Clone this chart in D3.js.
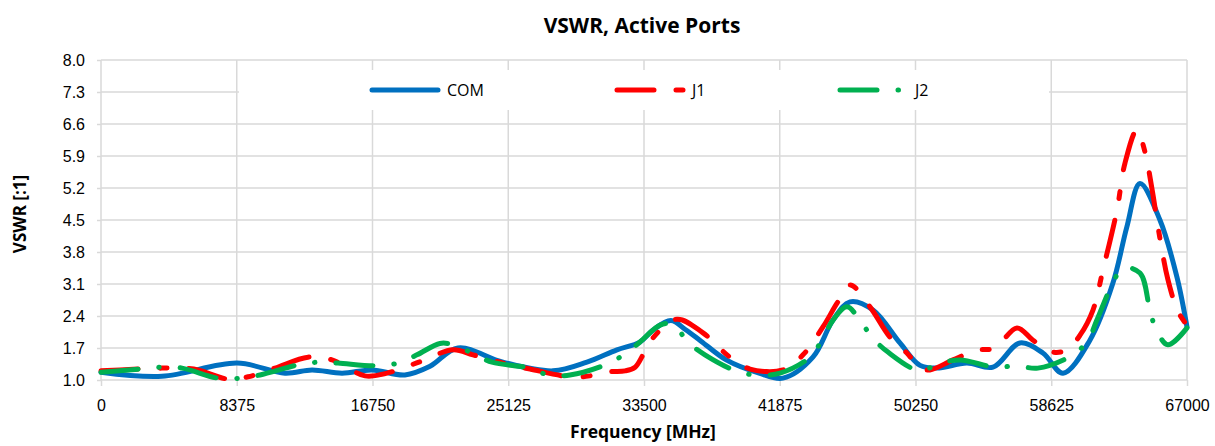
<!DOCTYPE html>
<html>
<head>
<meta charset="utf-8">
<script src="https://cdn.jsdelivr.net/npm/d3@7"></script>
<style>
  body { margin: 0; background: #fff; }
  svg { font-family: "Open Sans", sans-serif; }
</style>
</head>
<body>
<svg id="chart" width="1215" height="446"></svg>
<script>
'use strict';

// axis ticks
const xTicks = [0, 8375, 16750, 25125, 33500, 41875, 50250, 58625, 67000];
const yTicks = [1.0, 1.7, 2.4, 3.1, 3.8, 4.5, 5.2, 5.9, 6.6, 7.3, 8.0];

// COM series
const comFreq = [0, 3760, 8390, 11350, 13020, 14870, 16720, 18750, 20300, 22020, 24800, 27880, 29980, 31830,
  33250, 34050, 35160, 36070, 37020, 38570, 40600, 42070, 43920, 45160, 46210, 47630, 49290, 50530, 51570,
  53420, 55030, 56690, 58110, 59350, 61010, 62430, 63290, 64100, 65330, 66380, 67000];
const comVswr = [1.17, 1.08, 1.37, 1.15, 1.22, 1.15, 1.22, 1.11, 1.30, 1.70, 1.39, 1.20, 1.39, 1.66,
  1.83, 2.09, 2.30, 2.10, 1.85, 1.44, 1.15, 1.04, 1.50, 2.31, 2.71, 2.53, 1.81, 1.32, 1.26,
  1.37, 1.28, 1.81, 1.59, 1.15, 1.87, 3.12, 4.35, 5.30, 4.50, 3.25, 2.16];

// J1 series
const j1Freq = [0, 3760, 5720, 7830, 9070, 10730, 12770, 14250, 16290, 17640, 19680, 21720, 22950, 24800,
  26470, 28930, 30170, 31400, 32330, 32950, 33440, 34050, 35530, 37140, 38800, 40040, 42070, 43310, 44540,
  45410, 46210, 47440, 48670, 49720, 50530, 51140, 52560, 54040, 55150, 56510, 57500, 58730, 59590, 60400,
  61200, 61810, 62680, 63170, 63910, 64400, 64830, 65330, 65820, 66440, 67000];
const j1Vswr = [1.20, 1.26, 1.24, 1.02, 1.07, 1.26, 1.50, 1.44, 1.09, 1.15, 1.40, 1.66, 1.55, 1.37,
  1.24, 1.07, 1.09, 1.18, 1.20, 1.28, 1.55, 1.92, 2.33, 2.03, 1.50, 1.24, 1.22, 1.55, 2.16,
  2.68, 3.08, 2.60, 1.94, 1.59, 1.27, 1.22, 1.44, 1.65, 1.70, 2.14, 1.87, 1.61, 1.66, 1.98,
  2.53, 3.40, 4.72, 5.74, 6.47, 6.00, 5.20, 4.10, 3.20, 2.50, 2.20];

// J2 series
const j2Freq = [0, 2410, 3700, 5000, 7220, 8580, 9810, 12150, 13390, 14620, 16900, 18320, 19490, 20910,
  21720, 22890, 24120, 26470, 27580, 28930, 31090, 32330, 33250, 34490, 35290, 36210, 37260, 39300, 40530,
  41890, 43740, 44540, 45160, 46020, 46820, 47560, 48550, 50530, 51640, 52990, 55150, 56510, 57800, 59960,
  60890, 61440, 62370, 63050, 64100, 64710, 65080, 65820, 67000];
const j2Vswr = [1.17, 1.24, 1.28, 1.26, 1.04, 1.04, 1.11, 1.33, 1.39, 1.37, 1.31, 1.37, 1.55, 1.80,
  1.77, 1.59, 1.39, 1.26, 1.11, 1.11, 1.33, 1.57, 1.83, 2.20, 2.22, 1.83, 1.55, 1.18, 1.11,
  1.15, 1.50, 1.92, 2.31, 2.60, 2.31, 1.94, 1.61, 1.20, 1.35, 1.44, 1.28, 1.31, 1.26, 1.55,
  1.87, 2.31, 3.08, 3.45, 3.34, 2.53, 2.12, 1.77, 2.14];

const seriesNames = ['COM', 'J1', 'J2'];

const series = [
  { name: seriesNames[0], color: '#0070c0', dash: null,
    pts: comFreq.map((f, i) => [f, comVswr[i]]) },
  { name: seriesNames[1], color: '#ff0000', dash: '37,22,7,22',
    pts: j1Freq.map((f, i) => [f, j1Vswr[i]]) },
  { name: seriesNames[2], color: '#00b050', dash: '37,21,0.5,21',
    pts: j2Freq.map((f, i) => [f, j2Vswr[i]]) },
];

const svg = d3.select('#chart');
const plotL = 101, plotR = 1187, plotT = 60, plotB = 380;
const gridColor = '#d9d9d9';

const x = d3.scaleLinear().domain([0, 67000]).range([plotL, plotR]);
const y = d3.scaleLinear().domain([1, 8]).range([plotB, plotT]);

// title
svg.append('text')
  .attr('x', 642).attr('y', 33)
  .attr('text-anchor', 'middle')
  .style('font-size', '21px').style('font-weight', 'bold').style('fill', '#000')
  .text('VSWR, Active Ports');

// y axis labels + small ticks
const yAxis = svg.append('g')
  .attr('transform', `translate(${plotL},0)`)
  .call(d3.axisLeft(y).tickValues(yTicks).tickFormat(d3.format('.1f'))
    .tickSize(4).tickPadding(12));
yAxis.select('.domain').remove();
yAxis.selectAll('line').attr('stroke', gridColor).attr('stroke-width', 1.5);
yAxis.selectAll('text').style('font-size', '16px').style('fill', '#000');

// horizontal grid
svg.append('g').selectAll('line')
  .data(yTicks)
  .join('line')
  .attr('x1', plotL).attr('x2', plotR)
  .attr('y1', d => y(d)).attr('y2', d => y(d))
  .attr('stroke', gridColor).attr('stroke-width', 1.5);

// x axis labels + small ticks
const xAxis = svg.append('g')
  .attr('transform', `translate(0,${plotB})`)
  .call(d3.axisBottom(x).tickValues(xTicks).tickFormat(d3.format('d'))
    .tickSize(6).tickPadding(14));
xAxis.select('.domain').remove();
xAxis.selectAll('line').attr('stroke', gridColor).attr('stroke-width', 1.5);
xAxis.selectAll('text').style('font-size', '16px').style('fill', '#000');

// vertical grid
svg.append('g').selectAll('line')
  .data(xTicks)
  .join('line')
  .attr('x1', d => x(d)).attr('x2', d => x(d))
  .attr('y1', plotT).attr('y2', plotB)
  .attr('stroke', gridColor).attr('stroke-width', 1.5);

// axis titles
svg.append('text')
  .attr('x', 643).attr('y', 438)
  .attr('text-anchor', 'middle')
  .style('font-size', '17.5px').style('font-weight', 'bold')
  .text('Frequency [MHz]');

svg.append('text')
  .attr('transform', 'translate(26,214) rotate(-90)')
  .attr('text-anchor', 'middle')
  .style('font-size', '17px').style('font-weight', 'bold')
  .text('VSWR [:1]');

// the curves
const line = d3.line()
  .x(d => x(d[0]))
  .y(d => y(d[1]))
  .curve(d3.curveCatmullRom.alpha(0.5));

series.forEach(s => {
  svg.append('path')
    .datum(s.pts)
    .attr('d', line)
    .attr('fill', 'none')
    .attr('stroke', s.color)
    .attr('stroke-width', 5)
    .attr('stroke-linecap', 'round')
    .attr('stroke-linejoin', 'round')
    .attr('stroke-dasharray', s.dash);
});

// legend
svg.append('rect')
  .attr('x', 239).attr('y', 70).attr('width', 810).attr('height', 40)
  .attr('fill', '#fff');

const legendX = [372, 617, 840];
series.forEach((s, i) => {
  const lx = legendX[i];
  svg.append('path')
    .attr('d', `M${lx},90H${lx + (i === 0 ? 66 : 70)}`)
    .attr('stroke', s.color)
    .attr('stroke-width', 5)
    .attr('stroke-linecap', 'round')
    .attr('stroke-dasharray', s.dash);
  svg.append('text')
    .attr('x', i === 0 ? 447 : lx + 75).attr('y', 96)
    .style('font-size', '16px').style('fill', '#000')
    .text(s.name);
});
</script>
</body>
</html>
